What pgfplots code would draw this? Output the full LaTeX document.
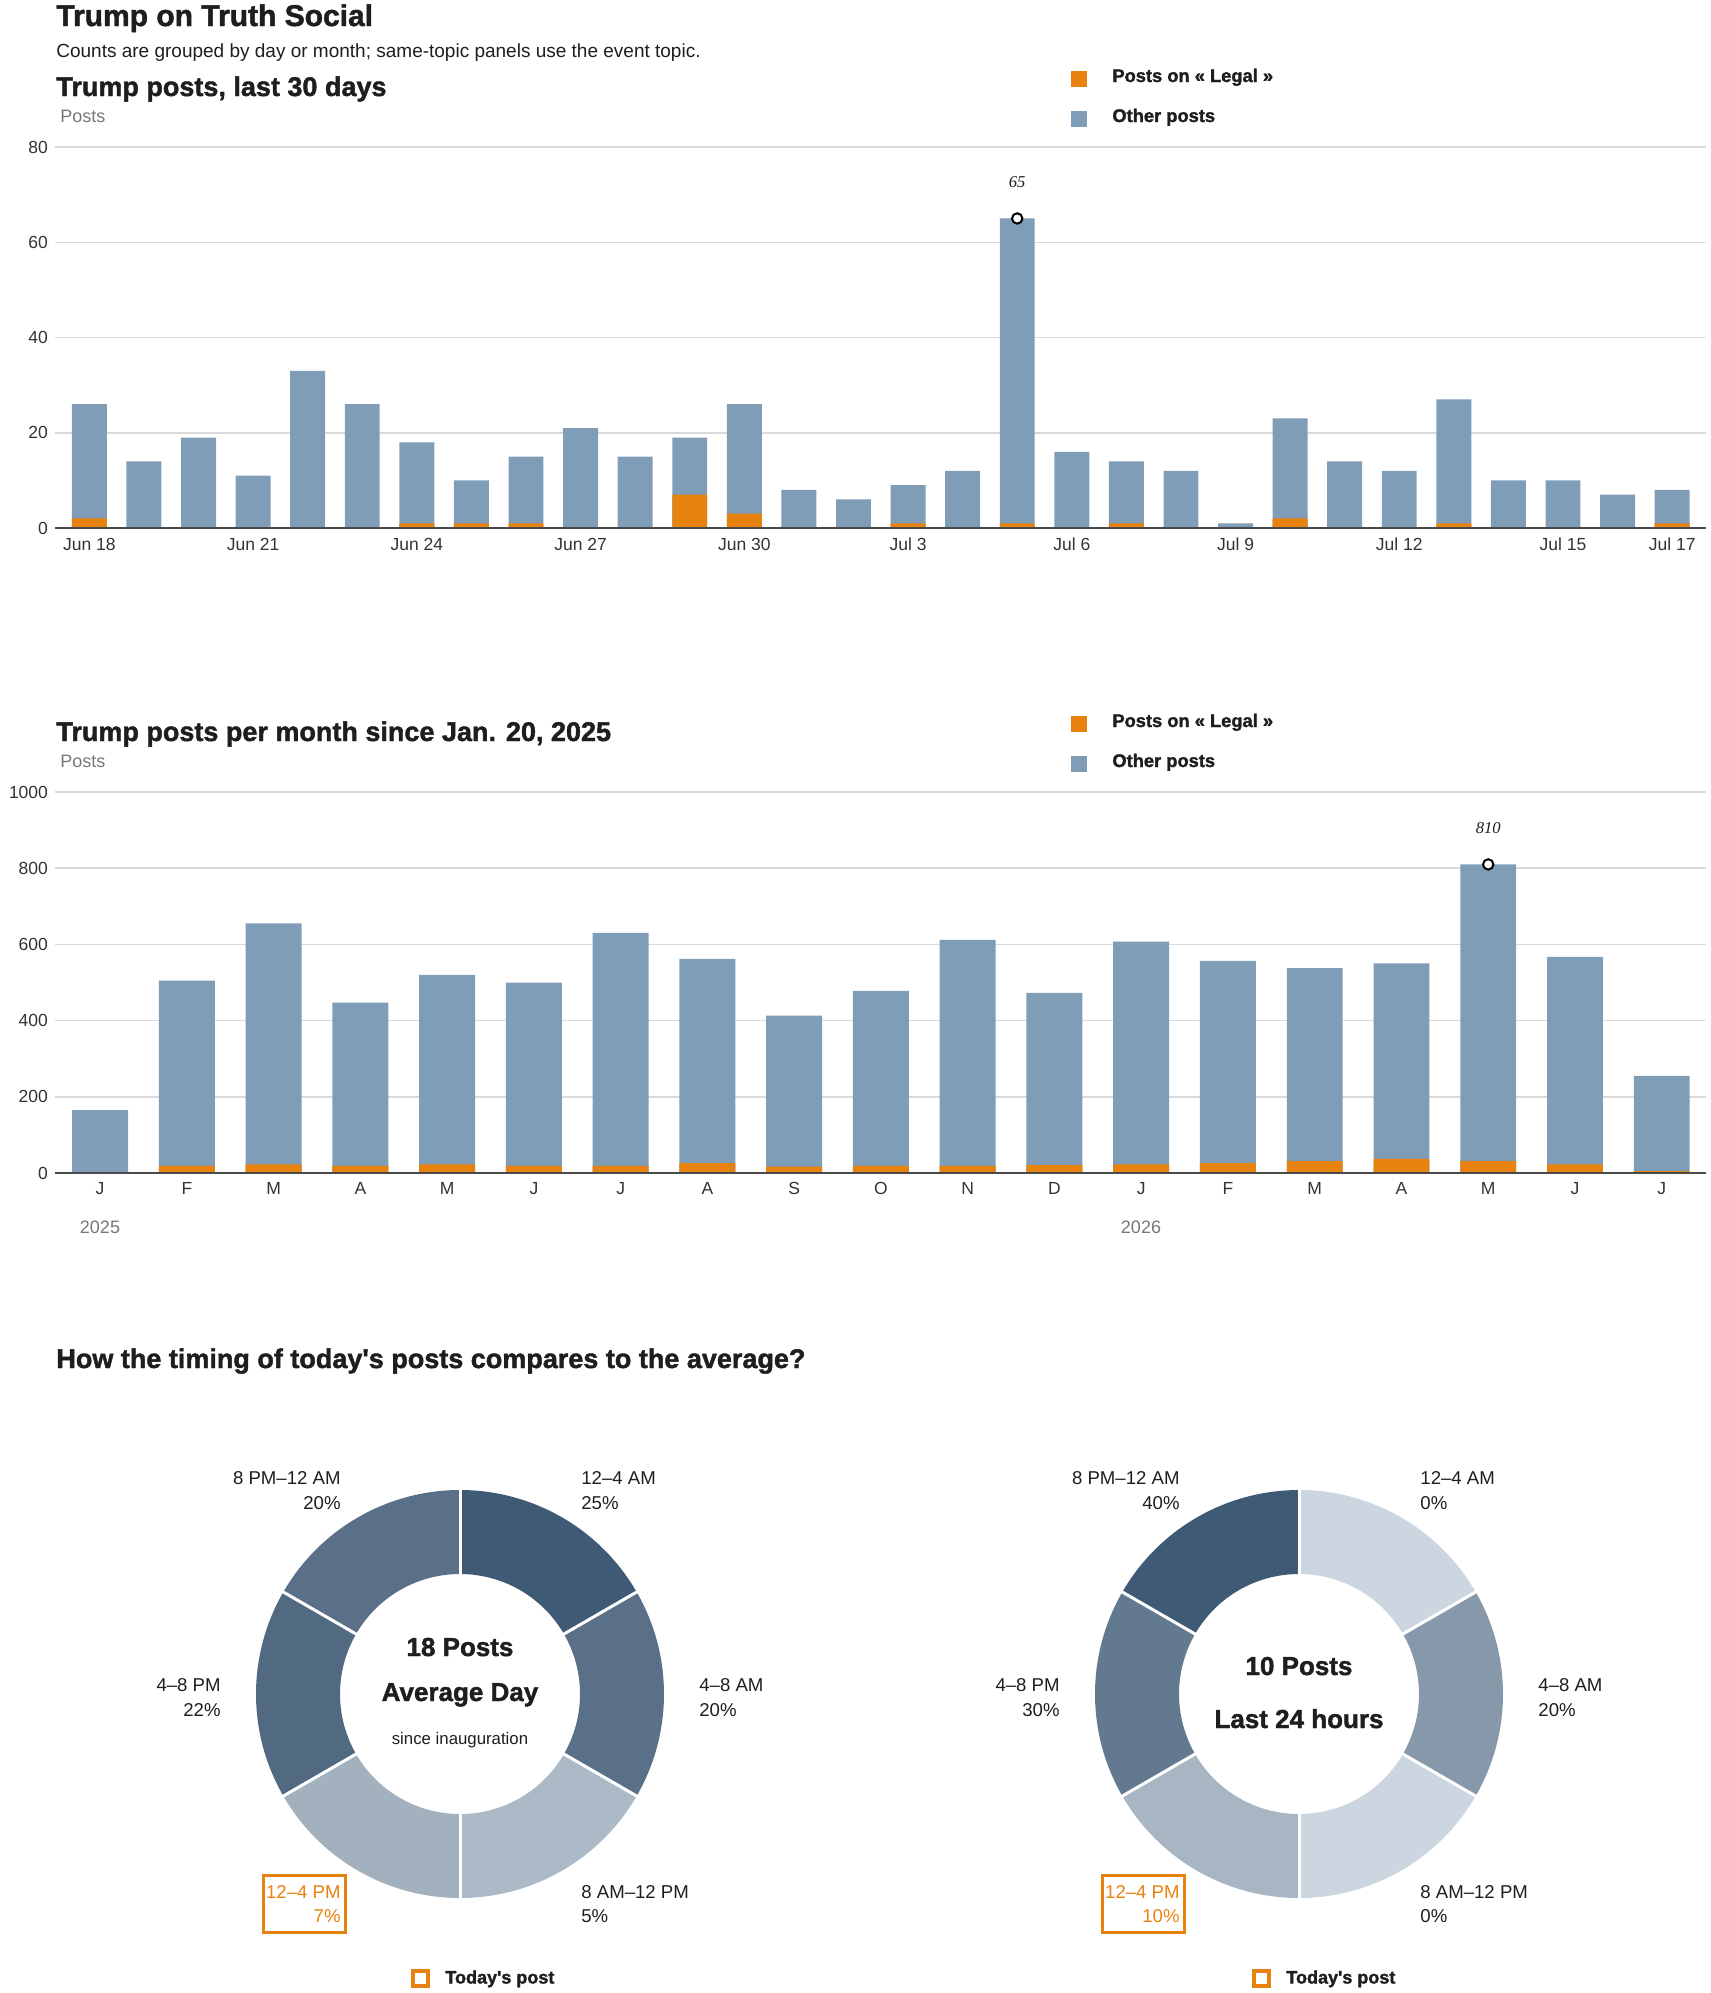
\documentclass[border=0pt]{standalone}
\usepackage{fontspec}
\setmainfont{Liberation Sans}
\newfontfamily\heavy[FakeBold=1.6]{Liberation Sans Bold}
\newfontfamily\serifit{Liberation Serif}
\usepackage{pgfplots}
\pgfplotsset{compat=1.18}
\usepackage{pgfplotstable}

\definecolor{legal}{HTML}{E8820F}
\definecolor{other}{HTML}{809DB8}
\definecolor{gridc}{HTML}{DADADA}
\definecolor{axisc}{HTML}{4A4A4A}
\definecolor{txt}{HTML}{1E1E1E}
\definecolor{tick}{HTML}{333333}
\definecolor{graytxt}{HTML}{777777}
\definecolor{dA}{HTML}{3F5A75}
\definecolor{dB}{HTML}{5A7088}
\definecolor{dC}{HTML}{ACBAC7}
\definecolor{dD}{HTML}{A3B1BF}
\definecolor{dE}{HTML}{516A82}
\definecolor{eA}{HTML}{CCD6E0}
\definecolor{eB}{HTML}{8698A9}
\definecolor{eD}{HTML}{A8B6C4}
\definecolor{eE}{HTML}{62798F}

\pgfplotstableread{
x total legal
0 26 2
1 14 0
2 19 0
3 11 0
4 33 0
5 26 0
6 18 1
7 10 1
8 15 1
9 21 0
10 15 0
11 19 7
12 26 3
13 8 0
14 6 0
15 9 1
16 12 0
17 65 1
18 16 0
19 14 1
20 12 0
21 1 0
22 23 2
23 14 0
24 12 0
25 27 1
26 10 0
27 10 0
28 7 0
29 8 1
}\daily

\pgfplotstableread{
x total legal
0 165 0
1 505 19
2 655 23
3 447 19
4 520 23
5 500 19
6 630 19
7 562 26
8 413 17
9 478 19
10 612 19
11 473 21
12 607 23
13 557 26
14 538 31
15 550 37
16 810 31
17 567 23
18 255 5
}\monthly

\pgfplotsset{
  barchart/.style={
    scale only axis, width=825.5pt, height=190.5pt, anchor=south west,
    axis line style={draw=none}, major tick length=0pt,
    ymajorgrids, grid style={gridc, line width=0.75pt},
    ymin=0, clip=false, scaled y ticks=false,
    /pgf/number format/assume math mode=true,
    /pgf/number format/1000 sep={},
    ticklabel style={font=\fontsize{8.75}{10}\selectfont, text=tick},
  },
  peak/.style={only marks, mark=*, mark size=2.6pt,
    mark options={line width=1pt, draw=black, fill=white},
    nodes near coords,
    nodes near coords style={font=\serifit\itshape\fontsize{8.3}{9}\selectfont,
      anchor=center, yshift=18pt, text=txt}},
}

% donut segment: colour, start angle, end angle (units: 1 = 0.5pt = 1 px)
\newcommand{\seg}[3]{\fill[#1] (#2:204) arc[start angle=#2, end angle=#3, radius=204] -- (#3:120) arc[start angle=#3, end angle=#2, radius=120] -- cycle;}
\newcommand{\sep}[1]{\draw[white, line width=1.5pt] (#1:116) -- (#1:208);}
\newcommand{\seps}{\sep{90}\sep{30}\sep{-30}\sep{-90}\sep{-150}\sep{150}}

\begin{document}
\begin{tikzpicture}
\useasboundingbox (0,0) rectangle (855pt,-996.5pt);

% ---------- headings ----------
\node[anchor=base west, inner sep=0, text=txt, font=\heavy\fontsize{15}{18}\selectfont] at (28pt,-13pt) {Trump on Truth Social};
\node[anchor=base west, inner sep=0, text=txt, font=\fontsize{9.5}{11}\selectfont] at (28pt,-28.5pt) {Counts are grouped by day or month; same-topic panels use the event topic.};

% ---------- chart 1 ----------
\node[anchor=base west, inner sep=0, text=txt, font=\heavy\fontsize{13.5}{16}\selectfont] at (28pt,-48pt) {Trump posts, last 30 days};
\node[anchor=base west, inner sep=0, text=graytxt, font=\fontsize{9}{11}\selectfont] at (30pt,-61pt) {Posts};
\fill[legal] (535.5pt,-35.5pt) rectangle (543.5pt,-43.5pt);
\fill[other] (535.5pt,-55.5pt) rectangle (543.5pt,-63.5pt);
\node[anchor=base west, inner sep=0, text=txt, font=\heavy\fontsize{9.15}{11}\selectfont] at (556pt,-41pt) {Posts on « Legal »};
\node[anchor=base west, inner sep=0, text=txt, font=\heavy\fontsize{9.15}{11}\selectfont] at (556pt,-61pt) {Other posts};

\begin{axis}[barchart, at={(27.5pt,-264pt)},
  xmin=-0.63, xmax=29.62, ymax=80, ytick={0,20,40,60,80},
  xtick={0,3,6,9,12,15,18,21,24,27,29},
  xticklabels={Jun 18,Jun 21,Jun 24,Jun 27,Jun 30,Jul 3,Jul 6,Jul 9,Jul 12,Jul 15,Jul 17},
  xticklabel style={yshift=-1.5pt}]
\addplot[ybar, bar width=0.64, bar shift=0pt, fill=other, draw=none] table[x=x, y=total] {\daily};
\addplot[ybar, bar width=0.64, bar shift=0pt, fill=legal, draw=none] table[x=x, y=legal] {\daily};
\draw[axisc, line width=1.25pt] (rel axis cs:0,0) -- (rel axis cs:1,0);
\addplot[peak] coordinates {(17,65)};
\end{axis}

% ---------- chart 2 ----------
\node[anchor=base west, inner sep=0, text=txt, font=\heavy\fontsize{13.5}{16}\selectfont] at (28pt,-370.5pt) {Trump posts per month since Jan. 20, 2025};
\node[anchor=base west, inner sep=0, text=graytxt, font=\fontsize{9}{11}\selectfont] at (30pt,-383.5pt) {Posts};
\fill[legal] (535.5pt,-358pt) rectangle (543.5pt,-366pt);
\fill[other] (535.5pt,-378pt) rectangle (543.5pt,-386pt);
\node[anchor=base west, inner sep=0, text=txt, font=\heavy\fontsize{9.15}{11}\selectfont] at (556pt,-363.5pt) {Posts on « Legal »};
\node[anchor=base west, inner sep=0, text=txt, font=\heavy\fontsize{9.15}{11}\selectfont] at (556pt,-383.5pt) {Other posts};

\begin{axis}[barchart, at={(27.5pt,-586.5pt)},
  xmin=-0.52, xmax=18.51, ymax=1000, ytick={0,200,400,600,800,1000},
  xtick={0,...,18},
  xticklabels={J,F,M,A,M,J,J,A,S,O,N,D,J,F,M,A,M,J,J},
  xticklabel style={yshift=-1pt}]
\addplot[ybar, bar width=0.645, bar shift=0pt, fill=other, draw=none] table[x=x, y=total] {\monthly};
\addplot[ybar, bar width=0.645, bar shift=0pt, fill=legal, draw=none] table[x=x, y=legal] {\monthly};
\draw[axisc, line width=1.25pt] (rel axis cs:0,0) -- (rel axis cs:1,0);
\addplot[peak] coordinates {(16,810)};
\end{axis}
\node[anchor=center, text=graytxt, font=\fontsize{9}{11}\selectfont] at (50pt,-613.5pt) {2025};
\node[anchor=center, text=graytxt, font=\fontsize{9}{11}\selectfont] at (570.5pt,-613.5pt) {2026};

% ---------- donuts ----------
\node[anchor=base west, inner sep=0, text=txt, font=\heavy\fontsize{13.5}{16}\selectfont] at (28pt,-684pt) {How the timing of today's posts compares to the average?};

\begin{scope}[shift={(230pt,-847pt)}, x=0.5pt, y=0.5pt]
\seg{dA}{90}{30}
\seg{dB}{30}{-30}
\seg{dC}{-30}{-90}
\seg{dD}{-90}{-150}
\seg{dE}{-150}{-210}
\seg{dB}{150}{90}
\seps
\end{scope}

\begin{scope}[shift={(649.5pt,-847pt)}, x=0.5pt, y=0.5pt]
\seg{eA}{90}{30}
\seg{eB}{30}{-30}
\seg{eA}{-30}{-90}
\seg{eD}{-90}{-150}
\seg{eE}{-150}{-210}
\seg{dA}{150}{90}
\seps
\end{scope}

\tikzset{lab/.style={inner sep=0, text=txt, font=\fontsize{9.3}{11}\selectfont},
         ctr/.style={inner sep=0, anchor=base, text=txt, font=\heavy\fontsize{13}{15}\selectfont}}

% donut 1 labels
\node[lab, anchor=base east] at (170.5pt,-742pt) {8 PM–12 AM};
\node[lab, anchor=base east] at (170.5pt,-754.5pt) {20\%};
\node[lab, anchor=base west] at (290.5pt,-742pt) {12–4 AM};
\node[lab, anchor=base west] at (290.5pt,-754.5pt) {25\%};
\node[lab, anchor=base east] at (110.5pt,-845.5pt) {4–8 PM};
\node[lab, anchor=base east] at (110.5pt,-858pt) {22\%};
\node[lab, anchor=base west] at (349.5pt,-845.5pt) {4–8 AM};
\node[lab, anchor=base west] at (349.5pt,-858pt) {20\%};
\node[lab, anchor=base west] at (290.5pt,-949pt) {8 AM–12 PM};
\node[lab, anchor=base west] at (290.5pt,-961pt) {5\%};
\node[lab, anchor=base east, text=legal] at (170.5pt,-949pt) {12–4 PM};
\node[lab, anchor=base east, text=legal] at (170.5pt,-961pt) {7\%};
\draw[legal, line width=1.5pt] (131.5pt,-937.5pt) rectangle (172.5pt,-966pt);
\node[ctr] at (230pt,-828pt) {18 Posts};
\node[ctr] at (230pt,-850.5pt) {Average Day};
\node[inner sep=0, anchor=base, text=txt, font=\fontsize{8.4}{10}\selectfont] at (230pt,-872pt) {since inauguration};
\draw[legal, line width=2pt] (206.25pt,-985.25pt) rectangle (213.75pt,-992.75pt);
\node[inner sep=0, anchor=base west, text=txt, font=\heavy\fontsize{9}{11}\selectfont] at (222.5pt,-991.75pt) {Today's post};

% donut 2 labels
\node[lab, anchor=base east] at (590pt,-742pt) {8 PM–12 AM};
\node[lab, anchor=base east] at (590pt,-754.5pt) {40\%};
\node[lab, anchor=base west] at (710pt,-742pt) {12–4 AM};
\node[lab, anchor=base west] at (710pt,-754.5pt) {0\%};
\node[lab, anchor=base east] at (530pt,-845.5pt) {4–8 PM};
\node[lab, anchor=base east] at (530pt,-858pt) {30\%};
\node[lab, anchor=base west] at (769pt,-845.5pt) {4–8 AM};
\node[lab, anchor=base west] at (769pt,-858pt) {20\%};
\node[lab, anchor=base west] at (710pt,-949pt) {8 AM–12 PM};
\node[lab, anchor=base west] at (710pt,-961pt) {0\%};
\node[lab, anchor=base east, text=legal] at (590pt,-949pt) {12–4 PM};
\node[lab, anchor=base east, text=legal] at (590pt,-961pt) {10\%};
\draw[legal, line width=1.5pt] (551pt,-937.5pt) rectangle (592pt,-966pt);
\node[ctr] at (649.5pt,-837.5pt) {10 Posts};
\node[ctr] at (649.5pt,-864pt) {Last 24 hours};
\draw[legal, line width=2pt] (626.75pt,-985.25pt) rectangle (634.25pt,-992.75pt);
\node[inner sep=0, anchor=base west, text=txt, font=\heavy\fontsize{9}{11}\selectfont] at (643pt,-991.75pt) {Today's post};
\end{tikzpicture}
\end{document}
